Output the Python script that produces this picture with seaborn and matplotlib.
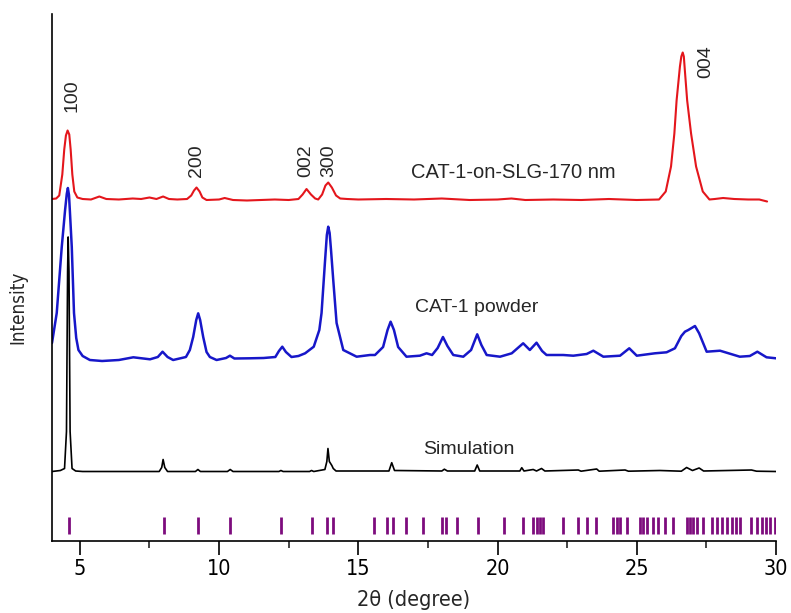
"""
XRD patterns: CAT-1 film on SLG, CAT-1 powder and simulated pattern,
with reflection markers along the bottom.
"""

import matplotlib
matplotlib.use("Agg")
import matplotlib.pyplot as plt
from matplotlib import font_manager
from matplotlib.ticker import MultipleLocator
import numpy as np
import seaborn as sns

# ---- traced data (intensity relative to each pattern's own baseline) ----
film_2theta = [4.00, 4.15, 4.26, 4.37, 4.44, 4.50, 4.56, 4.62, 4.67, 4.73, 4.80, 4.91,
               5.10, 5.40, 5.70, 5.95, 6.40, 6.90, 7.20, 7.50, 7.75, 7.99, 8.20, 8.50,
               8.85, 9.00, 9.10, 9.19, 9.30, 9.40, 9.55, 10.00, 10.20, 10.50, 11.00,
               11.50, 12.00, 12.50, 12.85, 13.00, 13.14, 13.30, 13.45, 13.56, 13.70,
               13.82, 13.92, 14.05, 14.20, 14.35, 14.60, 15.00, 16.00, 17.00, 18.00,
               19.00, 20.00, 20.50, 21.00, 22.00, 23.00, 24.00, 25.00, 25.80, 26.04,
               26.23, 26.35, 26.43, 26.55, 26.60, 26.65, 26.69, 26.73, 26.81, 26.95,
               27.13, 27.37, 27.61, 27.80, 28.10, 28.50, 29.00, 29.40, 29.68]
film_int = [0.5, 1, 4, 25, 50, 64, 69, 65, 50, 25, 8, 2,
            0.5, 0, 3, 0.5, 0, 1, 0.5, 2, 0.5, 3, 0.5, 0,
            0.5, 4, 9, 12, 8, 2, -0.5, 0, 1.5, -0.5, -1,
            -0.5, 0, -0.5, 0.5, 5, 10.5, 5, 1, 0, 5,
            14, 17, 12, 4, 1, 0.5, 0, 0.5, 0, 1,
            -0.5, 0, 1, -0.5, 0, -0.5, 0.5, -0.5, 0, 8,
            33, 66, 99, 133, 143, 147, 143, 128, 99, 66,
            33, 8, 0, 0.5, 1.5, 0.5, 0, 0, -2]

powder_2theta = [4.00, 4.17, 4.35, 4.47, 4.53, 4.57, 4.61, 4.64, 4.71, 4.79, 4.87, 4.95,
                 5.10, 5.36, 5.80, 6.40, 6.92, 7.52, 7.80, 7.97, 8.15, 8.35, 8.81, 8.95,
                 9.07, 9.18, 9.25, 9.32, 9.43, 9.55, 9.67, 9.91, 10.25, 10.39, 10.55,
                 11.10, 11.60, 12.02, 12.15, 12.27, 12.40, 12.60, 12.85, 13.09, 13.40,
                 13.60, 13.68, 13.80, 13.87, 13.92, 13.97, 14.02, 14.10, 14.22, 14.46,
                 14.94, 15.42, 15.60, 15.89, 16.05, 16.16, 16.28, 16.43, 16.73, 17.21,
                 17.45, 17.65, 17.85, 18.04, 18.20, 18.41, 18.77, 19.05, 19.27, 19.42,
                 19.61, 20.09, 20.51, 20.92, 21.16, 21.40, 21.60, 21.76, 22.36, 22.72,
                 23.20, 23.44, 23.80, 24.40, 24.73, 25.00, 25.65, 26.07, 26.37, 26.60,
                 26.73, 26.85, 27.09, 27.24, 27.51, 27.99, 28.70, 29.06, 29.33, 29.66,
                 30.00]
powder_int = [17, 47, 113, 150, 166, 172, 165, 150, 113, 47, 22, 10,
              4, 0, -1, 0, 2.7, 0.7, 3, 8.3, 3, 0, 3, 10,
              23, 40, 46.7, 40, 23, 8, 3, 0, 2, 4.3, 1.5,
              1.7, 2, 3, 9, 13.3, 8, 3, 4, 6.7, 13.3,
              30, 47, 97, 125, 133.3, 127, 110, 80, 37, 10,
              3.3, 5, 5, 13, 30, 38.3, 30, 13, 3.3, 4.3,
              6.7, 5, 12, 23, 14, 5, 3.3, 10, 25.7, 15,
              5, 3.3, 6.7, 16.7, 10, 17.3, 9, 5, 5, 4.3,
              6, 9.3, 3.3, 4.3, 11.7, 4.3, 6.7, 7.7, 11.7, 24,
              28.3, 30, 34, 26.7, 8.3, 9.3, 3.3, 4, 8.3, 2.7,
              1.7]

sim_2theta = [4.00, 4.30, 4.45, 4.52, 4.56, 4.58, 4.61, 4.65, 4.72, 4.85, 5.10,
              7.85, 7.94, 7.99, 8.05, 8.15, 9.15, 9.24, 9.33, 10.30, 10.40, 10.50,
              12.15, 12.22, 12.30, 13.25, 13.32, 13.40, 13.80, 13.87, 13.91, 13.96,
              14.05, 14.10, 14.20, 16.10, 16.20, 16.30, 18.00, 18.09, 18.20, 19.18,
              19.27, 19.36, 20.80, 20.87, 20.95, 21.28, 21.40, 21.58, 21.70, 22.90,
              23.00, 23.56, 23.65, 24.58, 24.70, 25.83, 26.60, 26.79, 27.00, 27.24,
              27.40, 29.12, 29.30, 30.00]
sim_int = [0, 1, 3, 40, 200, 234.5, 200, 40, 3, 0.5, 0,
           0, 4, 12, 4, 0, 0, 2, 0, 0, 2, 0,
           0, 1, 0, 0, 1, 0, 2, 10, 23, 10,
           6, 3, 0.5, 0.5, 8.8, 1, 0.5, 2.3, 0.5, 0.5,
           6.5, 0.5, 0.5, 3.8, 0.5, 2, 0.5, 3, 0.5, 1.5,
           0.3, 2.5, 0.3, 1.5, 0.3, 1, 0.3, 4, 1, 3.5,
           0.5, 1.5, 0.3, 0]

reflections = [4.61, 8.01, 9.23, 10.40, 12.22, 13.32, 13.89, 14.10, 15.56, 16.04,
               16.25, 16.71, 17.33, 17.99, 18.15, 18.55, 19.31, 20.23, 20.92, 21.28,
               21.40, 21.52, 21.64, 22.34, 22.90, 23.20, 23.53, 24.15, 24.28, 24.40,
               24.64, 25.11, 25.23, 25.35, 25.59, 25.77, 26.01, 26.31, 26.79, 26.91,
               27.03, 27.15, 27.39, 27.69, 27.87, 28.05, 28.23, 28.41, 28.56, 28.70,
               29.12, 29.30, 29.48, 29.64, 29.78, 29.96]

hkl_labels = ["100", "200", "002", "300", "004"]
hkl_2theta = [4.71, 9.20, 13.12, 13.95, 27.48]

# vertical offsets of the stacked patterns
OFFSETS = {"film": 341.5, "powder": 181.0, "sim": 69.5}
HKL_Y = [429, 364, 364, 364, 463]

sns.set_theme(style="ticks")
plt.rcParams["font.family"] = ["Liberation Sans", "DejaVu Sans"]

# axis text in the reference is a narrow face; use one if installed
_names = {f.name for f in font_manager.fontManager.ttflist}
if "Liberation Sans Narrow" in _names:
    AXIS_FONT = dict(family=["Liberation Sans Narrow", "DejaVu Sans"])
else:
    AXIS_FONT = dict(family=["DejaVu Sans"], stretch="condensed")

fig = plt.figure(figsize=(7.91, 6.13), dpi=100)
ax = fig.add_axes([52 / 791, 72 / 613, 724 / 791, 527 / 613])

sns.lineplot(x=film_2theta, y=np.array(film_int) + OFFSETS["film"], ax=ax,
             color="#e4161c", lw=1.5, estimator=None)
sns.lineplot(x=powder_2theta, y=np.array(powder_int) + OFFSETS["powder"], ax=ax,
             color="#1717c9", lw=1.8, estimator=None)
sns.lineplot(x=sim_2theta, y=np.array(sim_int) + OFFSETS["sim"], ax=ax,
             color="black", lw=1.2, estimator=None)
ax.vlines(reflections, 7, 24, color="#7d0c7d", lw=2)

for lab, xx, yy in zip(hkl_labels, hkl_2theta, HKL_Y):
    ax.text(xx, yy, lab, rotation=90, ha="center", va="bottom", fontsize=14)

ax.text(20.57, 368, "CAT-1-on-SLG-170 nm", ha="center", va="center", fontsize=14.5)
ax.text(19.24, 234, "CAT-1 powder", ha="center", va="center", fontsize=14)
ax.text(18.97, 91, "Simulation", ha="center", va="center", fontsize=14)

ax.set_xlim(4, 30)
ax.set_ylim(0, 527)
ax.set_yticks([])
ax.xaxis.set_major_locator(MultipleLocator(5))
ax.xaxis.set_minor_locator(MultipleLocator(2.5))
ax.tick_params(axis="x", which="major", length=10, width=1.2, direction="out",
               pad=3, labelsize=15.5, colors="black")
ax.tick_params(axis="x", which="minor", length=5, width=1.2, direction="out")
for lbl in ax.get_xticklabels():
    lbl.set(**AXIS_FONT)
for side in ("top", "right"):
    ax.spines[side].set_visible(False)
for side in ("left", "bottom"):
    ax.spines[side].set_linewidth(1.2)
    ax.spines[side].set_color("black")

ax.set_xlabel("2θ (degree)", fontsize=15.5, labelpad=8, **AXIS_FONT)
ax.set_ylabel("Intensity", fontsize=13.5, **AXIS_FONT)
ax.yaxis.set_label_coords(-0.034, 0.444)

fig.savefig("out.png", dpi=100)
plt.close(fig)
